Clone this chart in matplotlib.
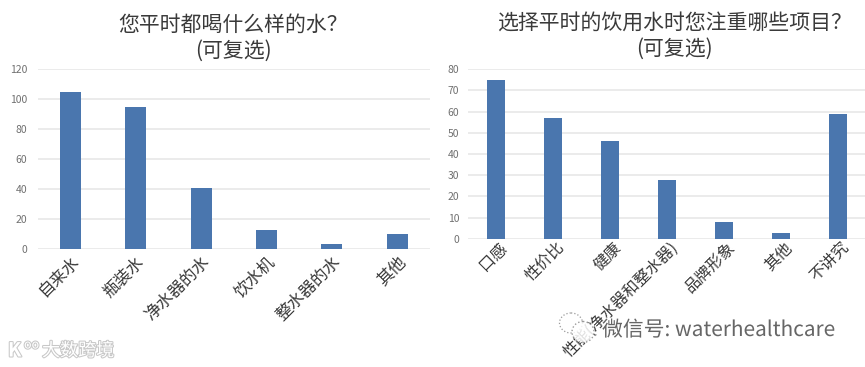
import matplotlib
matplotlib.use('Agg')
import matplotlib.pyplot as plt
import matplotlib.patheffects as pe
from matplotlib.patches import Ellipse
from matplotlib.transforms import ScaledTranslation

plt.rcParams['font.family'] = ['Noto Sans CJK SC', 'DejaVu Sans']

W, H = 865, 367

# datos de las dos graficas
cats_izq = ['自来水', '瓶装水', '净水器的水', '饮水机', '整水器的水', '其他']
vals_izq = [104.5, 95, 41, 13, 3.5, 10]
ticks_izq = [0, 20, 40, 60, 80, 100, 120]
titulo_izq = '您平时都喝什么样的水？\n(可复选)'

cats_der = ['口感', '性价比', '健康', '性能(净水器和整水器)', '品牌形象', '其他', '不讲究']
vals_der = [75, 57, 46, 28, 8, 3, 59]
ticks_der = [0, 10, 20, 30, 40, 50, 60, 70, 80]
titulo_der = '选择平时的饮用水时您注重哪些项目？\n(可复选)'

azul = '#4a76ae'
rejilla = '#e6e6e6'
gris = '#707070'
negro = '#3a3a3a'


def panel(fig, x0, x1, ytop, ybot, cats, vals, ticks, ancho, pad_y, dx, dy, talla):
    ax = fig.add_axes([x0 / W, 1 - ybot / H, (x1 - x0) / W, (ybot - ytop) / H])
    ax.bar(range(len(cats)), vals, width=ancho, color=azul, zorder=3)
    ax.set_xlim(-0.5, len(cats) - 0.5)
    ax.set_ylim(0, ticks[-1])
    ax.set_yticks(ticks)
    ax.set_xticks(range(len(cats)))
    ax.set_xticklabels(cats, rotation=45, ha='right', va='top', rotation_mode='anchor',
                       fontsize=talla, color=negro)
    for s in ax.spines.values():
        s.set_visible(False)
    ax.tick_params(axis='both', length=0)
    ax.tick_params(axis='y', labelsize=7.5, labelcolor=gris, pad=pad_y)
    ax.tick_params(axis='x', pad=3)
    ax.grid(axis='y', color=rejilla, linewidth=1.1, zorder=0)
    ax.set_axisbelow(True)
    ax.patch.set_alpha(0)
    desplaza = ScaledTranslation(dx / 100, dy / 100, fig.dpi_scale_trans)
    for lab in ax.get_xticklabels():
        lab.set_transform(lab.get_transform() + desplaza)
        lab.set_clip_on(False)
    return ax


fig = plt.figure(figsize=(W / 100, H / 100), dpi=100)

panel(fig, 37.5, 430, 69, 249, cats_izq, vals_izq, ticks_izq, 0.32, 7.5, 0, 0, 12)
panel(fig, 467.5, 866.5, 69, 239, cats_der, vals_der, ticks_der, 0.32, 6, 3, 4, 11.5)

fig.text(233 / W, 1 - 38 / H, titulo_izq, ha='center', va='center', fontsize=15,
         color=negro, linespacing=1.25)
fig.text(674 / W, 1 - 36 / H, titulo_der, ha='center', va='center', fontsize=15,
         color=negro, linespacing=1.25)

# marcas de agua
halo = [pe.withStroke(linewidth=1.5, foreground='#c8c8c8')]
fig.text(42 / W, 1 - 351 / H, '大数跨境', ha='left', va='center', fontsize=13,
         color='white', path_effects=halo)
fig.text(8 / W, 1 - 351 / H, 'K', ha='left', va='center', fontsize=14, fontweight='bold',
         color='white', path_effects=halo)
fig.text(24 / W, 1 - 345 / H, 'oo', ha='left', va='center', fontsize=9,
         color='white', path_effects=halo)

# icono de wechat
fondo = fig.add_axes([0, 0, 1, 1])
fondo.set_xlim(0, W)
fondo.set_ylim(H, 0)
fondo.axis('off')
fondo.patch.set_alpha(0)
fondo.add_patch(Ellipse((571, 323), 23, 20, fill=False, ec='#9a9a9a', lw=0.9, ls=':'))
fondo.add_patch(Ellipse((583, 332), 22, 21, fc='white', alpha=0.85, ec='#8a8a8a', lw=1.0, ls=':'))
fondo.text(602, 330, '微信号: waterhealthcare', ha='left', va='center', fontsize=15,
           color='#666666', path_effects=[pe.withStroke(linewidth=1.5, foreground='white')])

fig.savefig('out.png', dpi=100)
